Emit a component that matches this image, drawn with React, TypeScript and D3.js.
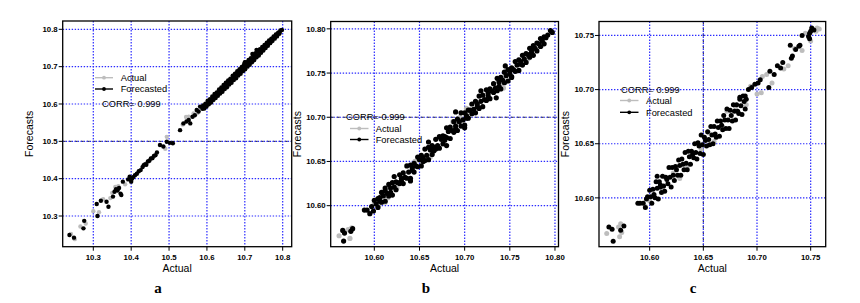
import React from 'react';
import * as d3 from 'd3';

// ---------- DATA ----------
const ticksA = [10.3, 10.4, 10.5, 10.6, 10.7, 10.8];
const ticksB = [10.6, 10.65, 10.7, 10.75, 10.8];
const ticksC = [10.6, 10.65, 10.7, 10.75];
const panelLetters = ['a', 'b', 'c'];
const legendLabels = ['Actual', 'Forecasted'];
const corrText = 'CORR= 0.999';

const aForecasted: [number, number][] = [
  [10.237,10.249],[10.249,10.242],[10.274,10.267],[10.276,10.287],[10.309,10.332],[10.311,10.300],[10.320,10.341],[10.335,10.338],[10.340,10.325],[10.352,10.352],[10.356,10.365],[10.360,10.372],[10.364,10.368],[10.368,10.375],[10.372,10.360],[10.374,10.356],[10.378,10.392],[10.392,10.398],[10.396,10.405],[10.400,10.392],[10.402,10.400],
  [10.405,10.404],[10.410,10.409],[10.415,10.413],[10.420,10.420],[10.425,10.423],[10.430,10.431],[10.433,10.436],[10.437,10.439],[10.440,10.437],[10.444,10.446],[10.448,10.448],[10.452,10.454],[10.456,10.455],[10.460,10.461],[10.464,10.463],[10.468,10.470],
  [10.476,10.490],[10.485,10.486],[10.494,10.499],[10.502,10.496],[10.510,10.495],
  [10.529,10.530],[10.538,10.548],[10.546,10.553],[10.552,10.557],[10.556,10.548],[10.562,10.566],[10.568,10.570],[10.573,10.584],[10.578,10.580],[10.582,10.593],
  [10.590,10.596],[10.596,10.601],[10.602,10.609],[10.608,10.613],[10.614,10.620],[10.620,10.627],[10.626,10.631],[10.632,10.639],[10.638,10.644],[10.644,10.651],[10.650,10.657],[10.656,10.663],[10.662,10.668],[10.668,10.676],[10.674,10.681],[10.680,10.688],[10.686,10.693],[10.692,10.699],[10.698,10.706],[10.704,10.712],[10.710,10.718],[10.716,10.723],[10.722,10.730],[10.728,10.736],[10.734,10.742],[10.740,10.747],[10.746,10.753],[10.752,10.758],[10.758,10.764],[10.764,10.770],[10.770,10.775],[10.776,10.781],[10.782,10.786],[10.788,10.791],[10.794,10.797],
  [10.588,10.587],[10.594,10.594],[10.600,10.599],[10.606,10.606],[10.612,10.611],[10.618,10.619],[10.624,10.623],[10.630,10.631],[10.636,10.635],[10.642,10.643],[10.648,10.647],[10.654,10.655],[10.660,10.659],[10.666,10.667],[10.672,10.671],[10.678,10.679],[10.684,10.683],[10.690,10.691],[10.696,10.695],[10.702,10.703],[10.708,10.707],[10.714,10.715],[10.720,10.719],[10.726,10.727],[10.732,10.731],[10.738,10.739],[10.744,10.743],[10.750,10.751],[10.756,10.755],[10.762,10.763],[10.768,10.767],[10.774,10.775],[10.780,10.779],[10.786,10.787],[10.792,10.791],[10.798,10.798],
  [10.593,10.588],[10.599,10.593],[10.605,10.599],[10.611,10.604],[10.617,10.611],[10.623,10.616],[10.629,10.622],[10.635,10.628],[10.641,10.633],[10.647,10.640],[10.653,10.645],[10.659,10.652],[10.665,10.657],[10.671,10.664],[10.677,10.669],[10.683,10.676],[10.689,10.681],[10.695,10.688],[10.701,10.693],[10.707,10.700],[10.713,10.705],[10.719,10.712],[10.725,10.718],[10.731,10.725],[10.737,10.730],[10.743,10.737],[10.749,10.743],[10.755,10.750],[10.761,10.756],[10.767,10.763],[10.773,10.769],[10.779,10.775],[10.785,10.781],[10.791,10.788],
  [10.731,10.745],[10.720,10.734],[10.700,10.712]
];
const aActual: [number, number][] = [
  [10.241,10.252],[10.251,10.238],[10.266,10.272],[10.280,10.280],[10.300,10.313],[10.315,10.310],[10.326,10.345],[10.345,10.348],[10.350,10.362],[10.358,10.378],[10.366,10.380],[10.384,10.385],[10.398,10.402],[10.490,10.480],[10.494,10.512],[10.536,10.545],[10.545,10.565],[10.552,10.566],[10.565,10.575],[10.575,10.576],[10.590,10.592],[10.700,10.694],[10.725,10.722],[10.760,10.758],[10.790,10.792]
];

const bForecasted: [number, number][] = [
  [10.565,10.572],[10.567,10.569],[10.566,10.560],[10.574,10.571],[10.576,10.574],
  [10.589,10.595],[10.592,10.595],[10.595,10.591],[10.597,10.599],[10.599,10.594],[10.612,10.620],[10.622,10.633],[10.660,10.672],[10.690,10.706],[10.700,10.688],[10.718,10.730],[10.745,10.758],[10.752,10.745],[10.735,10.722],[10.680,10.668],[10.640,10.628],[10.795,10.798],[10.797,10.796],[10.792,10.793],
  [10.600,10.606],[10.604,10.608],[10.608,10.615],[10.612,10.617],[10.616,10.624],[10.620,10.626],[10.624,10.627],[10.628,10.635],[10.632,10.637],[10.636,10.645],[10.640,10.646],[10.644,10.648],[10.648,10.655],[10.652,10.657],[10.656,10.664],[10.660,10.666],[10.664,10.668],[10.668,10.675],[10.672,10.678],[10.676,10.679],[10.680,10.688],[10.684,10.689],[10.688,10.695],[10.692,10.698],[10.696,10.705],[10.700,10.705],[10.704,10.708],[10.708,10.715],[10.712,10.718],[10.716,10.724],[10.720,10.725],[10.724,10.731],[10.728,10.732],[10.732,10.738],[10.736,10.744],[10.740,10.745],[10.744,10.751],[10.748,10.754],[10.752,10.756],[10.756,10.763],[10.760,10.765],[10.764,10.770],[10.768,10.772],[10.772,10.778],[10.776,10.781],[10.780,10.784],[10.784,10.789],[10.788,10.791],
  [10.602,10.602],[10.606,10.605],[10.610,10.611],[10.614,10.614],[10.618,10.620],[10.622,10.621],[10.626,10.626],[10.630,10.631],[10.634,10.632],[10.638,10.638],[10.642,10.643],[10.646,10.645],[10.650,10.652],[10.654,10.654],[10.658,10.657],[10.662,10.663],[10.666,10.666],[10.670,10.668],[10.674,10.675],[10.678,10.678],[10.682,10.684],[10.686,10.685],[10.690,10.690],[10.694,10.695],[10.698,10.697],[10.702,10.702],[10.706,10.708],[10.710,10.709],[10.714,10.715],[10.718,10.718],[10.722,10.720],[10.726,10.727],[10.730,10.730],[10.734,10.733],[10.738,10.740],[10.742,10.742],[10.746,10.747],[10.750,10.749],[10.754,10.754],[10.758,10.759],[10.762,10.760],[10.766,10.766],[10.770,10.771],[10.774,10.773],[10.778,10.778],[10.782,10.783],[10.786,10.786],[10.790,10.790],
  [10.604,10.598],[10.608,10.604],[10.612,10.605],[10.616,10.611],[10.620,10.612],[10.624,10.618],[10.628,10.625],[10.632,10.625],[10.636,10.631],[10.640,10.631],[10.644,10.638],[10.648,10.644],[10.652,10.645],[10.656,10.651],[10.660,10.652],[10.664,10.658],[10.668,10.664],[10.672,10.665],[10.676,10.670],[10.680,10.677],[10.684,10.676],[10.688,10.683],[10.692,10.685],[10.696,10.690],[10.700,10.691],[10.704,10.699],[10.708,10.704],[10.712,10.705],[10.716,10.710],[10.720,10.712],[10.724,10.719],[10.728,10.721],[10.732,10.728],[10.736,10.730],[10.740,10.732],[10.744,10.739],[10.748,10.741],[10.752,10.746],[10.756,10.752],[10.760,10.753],[10.764,10.759],[10.768,10.762],[10.772,10.768],[10.776,10.770],[10.780,10.775],[10.784,10.780],[10.788,10.783],
  [10.606,10.609],[10.618,10.615],[10.630,10.628],[10.642,10.640],[10.654,10.650],[10.666,10.662],[10.678,10.674],[10.690,10.687],[10.702,10.699],[10.714,10.712],[10.726,10.724],[10.738,10.735],[10.750,10.752],[10.762,10.763],[10.774,10.776]
];
const bActual: [number, number][] = [
  [10.561,10.566],[10.571,10.573],[10.575,10.575],[10.573,10.563],
  [10.600,10.603],[10.605,10.601],[10.608,10.604],[10.612,10.604],[10.615,10.609],[10.625,10.620],[10.645,10.650],[10.662,10.655],[10.687,10.695],[10.690,10.694],[10.702,10.710],[10.725,10.720],[10.740,10.736],[10.743,10.733],[10.758,10.752],[10.770,10.766],[10.774,10.776],[10.785,10.781],[10.695,10.700],[10.745,10.740]
];

const cForecasted: [number, number][] = [
  [10.562,10.573],[10.565,10.571],[10.566,10.560],[10.573,10.570],[10.576,10.574],
  [10.589,10.595],[10.591,10.595],[10.594,10.595],[10.597,10.599],[10.598,10.601],[10.596,10.591],[10.607,10.620],[10.610,10.612],
  [10.600,10.607],[10.603,10.608],[10.606,10.615],[10.609,10.615],[10.612,10.620],[10.615,10.619],[10.618,10.628],[10.621,10.628],[10.624,10.629],[10.627,10.635],[10.630,10.636],[10.633,10.642],[10.636,10.643],[10.639,10.643],[10.642,10.650],[10.645,10.651],[10.648,10.658],[10.651,10.656],[10.654,10.661],[10.657,10.666],[10.660,10.666],[10.663,10.671],[10.666,10.671],[10.669,10.676],[10.672,10.682],[10.675,10.681],[10.678,10.686],[10.681,10.686],[10.684,10.693],[10.687,10.694],
  [10.601,10.601],[10.604,10.603],[10.607,10.609],[10.610,10.610],[10.613,10.611],[10.616,10.617],[10.619,10.619],[10.622,10.621],[10.625,10.626],[10.628,10.630],[10.631,10.631],[10.634,10.632],[10.637,10.638],[10.640,10.640],[10.643,10.642],[10.646,10.648],[10.649,10.649],[10.652,10.653],[10.655,10.654],[10.658,10.658],[10.661,10.659],[10.664,10.665],[10.667,10.667],[10.670,10.672],[10.673,10.672],[10.676,10.676],[10.679,10.680],[10.682,10.680],[10.685,10.685],[10.688,10.689],
  [10.602,10.595],[10.605,10.600],[10.608,10.599],[10.611,10.605],[10.614,10.606],[10.617,10.613],[10.620,10.610],[10.623,10.616],[10.626,10.621],[10.629,10.621],[10.632,10.626],[10.635,10.626],[10.638,10.631],[10.641,10.637],[10.644,10.636],[10.647,10.641],[10.650,10.640],[10.653,10.648],[10.656,10.649],[10.659,10.650],[10.662,10.656],[10.665,10.657],[10.668,10.663],[10.671,10.664],[10.674,10.664],[10.677,10.671],[10.680,10.672],[10.683,10.678],[10.686,10.677],[10.689,10.682],
  [10.684,10.691],[10.689,10.694],[10.690,10.691],[10.692,10.700],[10.695,10.702],[10.698,10.705],[10.701,10.706],[10.703,10.709],[10.711,10.702],[10.712,10.717],[10.716,10.714],[10.719,10.722],[10.722,10.720],[10.724,10.725],[10.732,10.729],[10.733,10.731],[10.736,10.737],[10.731,10.741],[10.739,10.740],[10.740,10.741],[10.742,10.750],[10.748,10.749],[10.749,10.752],[10.750,10.754],[10.751,10.757],[10.749,10.747],[10.753,10.755]
];
const cActual: [number, number][] = [
  [10.560,10.567],[10.571,10.573],[10.573,10.576],[10.572,10.564],[10.574,10.568],
  [10.596,10.592],[10.600,10.597],[10.612,10.608],[10.622,10.623],[10.628,10.618],[10.635,10.629],[10.648,10.645],[10.655,10.660],[10.660,10.652],[10.668,10.666],[10.672,10.680],[10.680,10.684],[10.690,10.686],[10.694,10.703],[10.700,10.696],[10.704,10.697],[10.705,10.712],[10.709,10.714],[10.714,10.706],[10.725,10.719],[10.729,10.722],[10.735,10.738],[10.742,10.736],[10.745,10.752],[10.750,10.745],[10.755,10.754],[10.756,10.757],[10.758,10.756]
];

// ---------- LAYOUT ----------
type Panel = {
  actual: [number, number][];
  forecasted: [number, number][];
  ticks: number[];
  fmt: string;
  xDomain: [number, number];
  yDomain: [number, number];
  left: number; right: number; top: number; bottom: number;
  yTitleX: number;
  letterX: number;
  r: number;
  corr: [number, number];
  leg: [number, number, number];
  legY: [number, number];
  refH?: number;
  refV?: number;
};

const panels: Panel[] = [
  {
    actual: aActual, forecasted: aForecasted, ticks: ticksA, fmt: '.1f',
    xDomain: [10.2192, 10.8238], yDomain: [10.2178, 10.8223],
    left: 62.7, right: 291.7, top: 21, bottom: 246.7,
    yTitleX: 33, letterX: 158, r: 2.2,
    corr: [102, 104], leg: [95, 113, 120.7], legY: [77.7, 89], refH: 10.5,
  },
  {
    actual: bActual, forecasted: bForecasted, ticks: ticksB, fmt: '.2f',
    xDomain: [10.5517, 10.8039], yDomain: [10.5536, 10.8083],
    left: 330.7, right: 558.5, top: 21.5, bottom: 246.7,
    yTitleX: 301, letterX: 426, r: 2.6,
    corr: [346, 117], leg: [350, 368.5, 375.7], legY: [128.5, 139.5], refH: 10.7,
  },
  {
    actual: cActual, forecasted: cForecasted, ticks: ticksC, fmt: '.2f',
    xDomain: [10.5528, 10.764], yDomain: [10.5549, 10.7629],
    left: 599, right: 825.7, top: 21.5, bottom: 246.7,
    yTitleX: 569, letterX: 693, r: 2.5,
    corr: [621, 89.5], leg: [620, 638.5, 646], legY: [100.5, 112.3], refV: 10.65,
  },
];

const FONT = '"Liberation Sans", Arial, sans-serif';
const GRID = '#2b2bff';
const GRAY = '#bdbdbd';

function PanelView({ p, letter }: { p: Panel; letter: string }) {
  const x = d3.scaleLinear().domain(p.xDomain).range([p.left, p.right]);
  const y = d3.scaleLinear().domain(p.yDomain).range([p.bottom, p.top]);
  const f = d3.format(p.fmt);
  const cy = (p.top + p.bottom) / 2;
  const cx = (p.left + p.right) / 2;
  return (
    <g>
      {p.refH !== undefined && (
        <line x1={p.left} x2={p.right} y1={y(p.refH)} y2={y(p.refH)} stroke="#000" strokeWidth={0.9} strokeDasharray="3,3" />
      )}
      {p.refV !== undefined && (
        <line x1={x(p.refV)} x2={x(p.refV)} y1={p.top} y2={p.bottom} stroke="#000" strokeWidth={0.9} strokeDasharray="3,3" />
      )}
      {p.ticks.map((t, i) => (
        <g key={'g' + i}>
          <line x1={x(t)} x2={x(t)} y1={p.top} y2={p.bottom} stroke={GRID} strokeWidth={1.2} strokeDasharray="1.4,1.6" />
          <line x1={p.left} x2={p.right} y1={y(t)} y2={y(t)} stroke={GRID} strokeWidth={1.2} strokeDasharray="1.4,1.6" />
        </g>
      ))}
      {p.actual.map((d, i) => (
        <circle key={'a' + i} cx={x(d[0])} cy={y(d[1])} r={p.r} fill={GRAY} />
      ))}
      {p.forecasted.map((d, i) => (
        <circle key={'f' + i} cx={x(d[0])} cy={y(d[1])} r={p.r} fill="#000" />
      ))}
      <rect x={p.left} y={p.top} width={p.right - p.left} height={p.bottom - p.top} fill="none" stroke="#000" strokeWidth={1.3} />
      {p.ticks.map((t, i) => (
        <g key={'t' + i}>
          <line x1={x(t)} x2={x(t)} y1={p.bottom} y2={p.bottom + 4} stroke="#000" strokeWidth={1} />
          <text x={x(t)} y={p.bottom + 13.3} textAnchor="middle" fontFamily={FONT} fontSize={7.8} fontWeight="bold" fill="#000">{f(t)}</text>
          <line x1={p.left - 4} x2={p.left} y1={y(t)} y2={y(t)} stroke="#000" strokeWidth={1} />
          <text x={p.left - 5} y={y(t)} dy="0.35em" textAnchor="end" fontFamily={FONT} fontSize={7.8} fontWeight="bold" fill="#000">{f(t)}</text>
        </g>
      ))}
      <text x={cx} y={272} textAnchor="middle" fontFamily={FONT} fontSize={10.5} fill="#000">Actual</text>
      <text transform={`translate(${p.yTitleX},${cy}) rotate(-90)`} textAnchor="middle" fontFamily={FONT} fontSize={10.5} fill="#000">Forecasts</text>
      <text x={p.corr[0]} y={p.corr[1]} dy="0.35em" fontFamily={FONT} fontSize={9.3} fill="#000">{corrText}</text>
      {legendLabels.map((lab, i) => (
        <g key={'l' + i}>
          <line x1={p.leg[0]} x2={p.leg[1]} y1={p.legY[i]} y2={p.legY[i]} stroke={i === 0 ? GRAY : '#000'} strokeWidth={1.4} />
          <circle cx={(p.leg[0] + p.leg[1]) / 2} cy={p.legY[i]} r={1.9} fill={i === 0 ? GRAY : '#000'} />
          <text x={p.leg[2]} y={p.legY[i]} dy="0.35em" fontFamily={FONT} fontSize={9.3} fill="#000">{lab}</text>
        </g>
      ))}
      <text x={p.letterX} y={292.5} textAnchor="middle" fontFamily='"Liberation Serif", "Times New Roman", serif' fontWeight="bold" fontSize={15} fill="#000">{letter}</text>
    </g>
  );
}

export default function App() {
  return (
    <svg width={860} height={303} style={{ position: 'absolute', left: 0, top: 0, background: '#fff' }}>
      <rect x={0} y={0} width={860} height={303} fill="#fff" />
      {panels.map((p, i) => (
        <PanelView key={i} p={p} letter={panelLetters[i]} />
      ))}
    </svg>
  );
}
